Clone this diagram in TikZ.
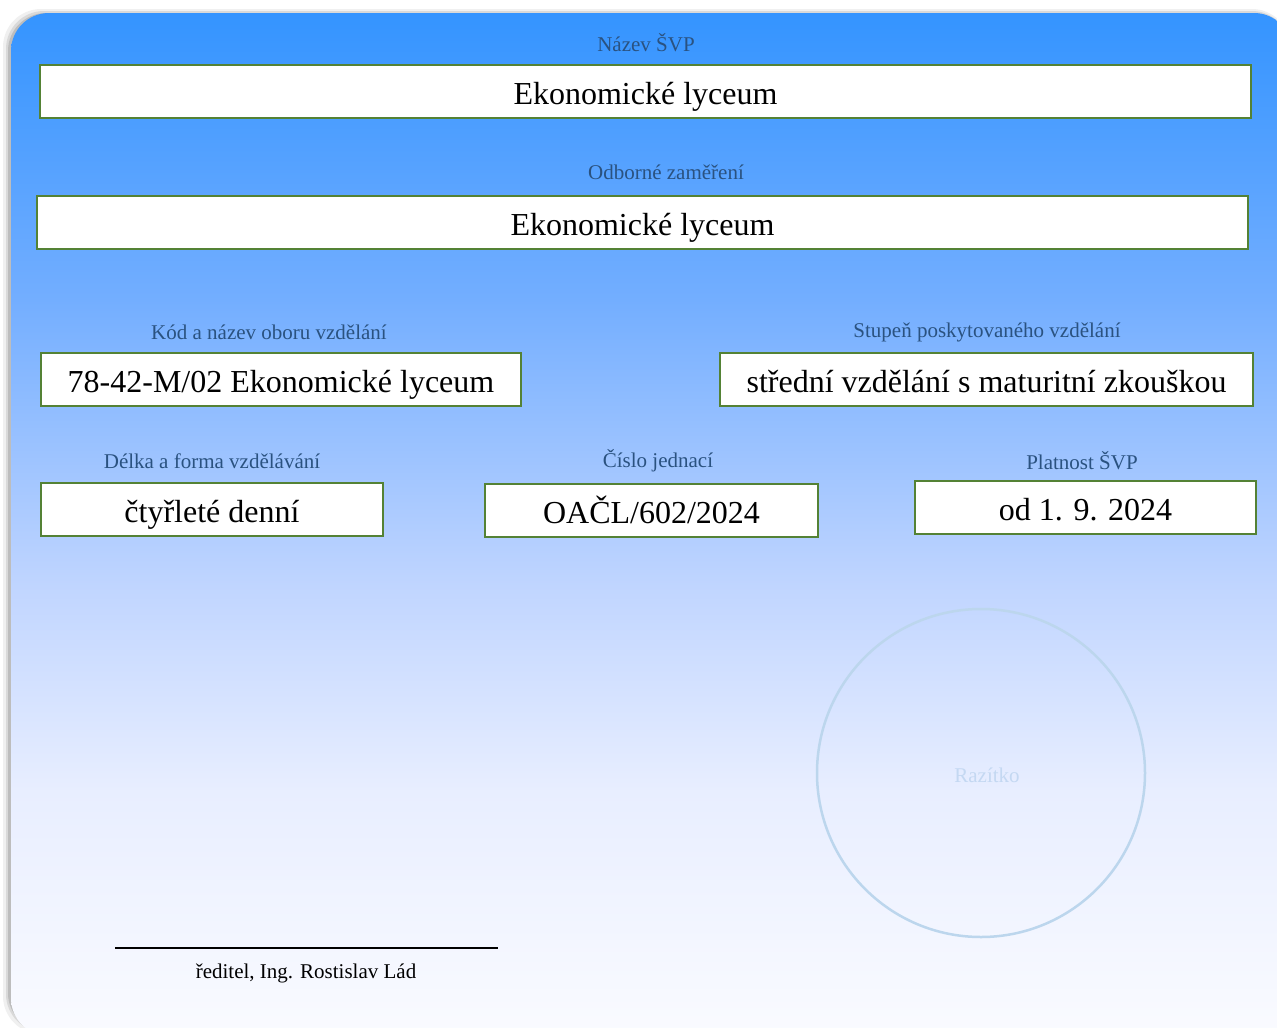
\documentclass[tikz,border=0pt]{standalone}
\usepackage{fontspec}
\setmainfont{Liberation Serif}
\definecolor{boxgreen}{RGB}{84,130,53}
\definecolor{labelblue}{RGB}{42,82,128}
\definecolor{topblue}{RGB}{52,148,255}
\definecolor{q1blue}{RGB}{115,174,255}
\definecolor{q2blue}{RGB}{192,213,255}
\definecolor{q3blue}{RGB}{232,238,255}
\definecolor{botblue}{RGB}{250,251,255}
\definecolor{stampblue}{RGB}{188,214,237}
\definecolor{stamptext}{RGB}{196,216,242}
\pgfdeclareverticalshading{cardshade}{100bp}{
  color(0bp)=(botblue); color(25bp)=(botblue); color(37bp)=(q3blue);
  color(47bp)=(q2blue); color(61bp)=(q1blue); color(75bp)=(topblue); color(100bp)=(topblue)}
\tikzset{
  field/.style={draw=boxgreen, line width=2.6pt, fill=white, inner sep=0pt,
    font=\fontsize{32}{38}\selectfont, text=black, text height=32pt, text depth=7pt},
  caption/.style={font=\fontsize{21}{25}\selectfont, text=labelblue, inner sep=0pt},
  sigtext/.style={font=\fontsize{21}{25}\selectfont, text=black, inner sep=0pt}
}
\begin{document}
\begin{tikzpicture}[x=1pt,y=-1pt]
\useasboundingbox (0,0) rectangle (1277,1028);
% card with soft shadow
\fill[black!6, rounded corners=38pt] (3,9) rectangle (1290,1034);
\fill[black!15, rounded corners=38pt] (6,11) rectangle (1290,1032);
\fill[black!26, rounded corners=38pt] (8,13) rectangle (1290,1031);
\shade[shading=cardshade, rounded corners=38pt] (11,13) rectangle (1292,1036);

% row 1
\node[caption] (l1) at (646,43) {Název ŠVP};
\node[field, minimum width=1211pt, minimum height=53pt] (b1) at (645.5,91.5) {Ekonomické lyceum};
% row 2
\node[caption] (l2) at (666,172) {Odborné zaměření};
\node[field, minimum width=1211pt, minimum height=53pt] (b2) at (642.5,222.5) {Ekonomické lyceum};
% row 3
\node[caption] (l3) at (269,332) {Kód a název oboru vzdělání};
\node[field, minimum width=480pt, minimum height=53pt] (b3) at (281,379.5) {78-42-M/02 Ekonomické lyceum};
\node[caption] (l4) at (987,332) {Stupeň poskytovaného vzdělání};
\node[field, minimum width=533pt, minimum height=53pt] (b4) at (986.5,379.5) {střední vzdělání s maturitní zkouškou};
% row 4
\node[caption] (l5) at (212,461) {Délka a forma vzdělávání};
\node[field, minimum width=342pt, minimum height=53pt] (b5) at (212,509.5) {čtyřleté denní};
\node[caption] (l6) at (658,461) {Číslo jednací};
\node[field, minimum width=333pt, minimum height=53pt] (b6) at (651.5,510.5) {OAČL/602/2024};
\node[caption] (l7) at (1082,461) {Platnost ŠVP};
\node[field, minimum width=341pt, minimum height=53pt] (b7) at (1085.5,507.5) {od 1. 9. 2024};

% stamp
\node[circle, draw=stampblue, line width=2.5pt, minimum size=328pt, inner sep=0pt] (stamp) at (981,773) {};
\node[font=\fontsize{21}{25}\selectfont, text=stamptext, inner sep=0pt] (stampt) at (987,775) {Razítko};

% signature
\coordinate (s1) at (115,948);
\coordinate (s2) at (498,948);
\draw[line width=1.4pt, black] (s1) -- (s2);
\node[sigtext] (sig) at (306,973) {ředitel, Ing. Rostislav Lád};
\end{tikzpicture}
\end{document}
